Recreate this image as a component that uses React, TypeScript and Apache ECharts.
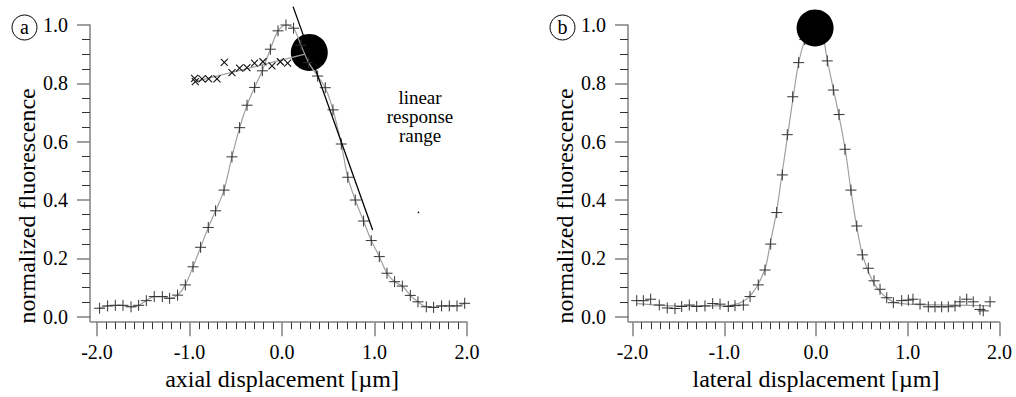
import React, { useEffect, useRef } from 'react';
import * as echarts from 'echarts';

// ---- panel (a): axial scan ----
const axialX = [-1.972, -1.885, -1.802, -1.719, -1.632, -1.55, -1.467, -1.381, -1.294, -1.215, -1.129, -1.045, -0.962, -0.88, -0.797, -0.718, -0.627, -0.541, -0.458, -0.378, -0.296, -0.213, -0.126, -0.043, 0.043, 0.125, 0.205, 0.288, 0.385, 0.468, 0.551, 0.641, 0.711, 0.792, 0.882, 0.965, 1.052, 1.135, 1.217, 1.301, 1.387, 1.47, 1.56, 1.639, 1.725, 1.809, 1.892, 1.975];
const axialY = [0.029, 0.037, 0.039, 0.039, 0.034, 0.039, 0.055, 0.069, 0.069, 0.063, 0.074, 0.109, 0.171, 0.238, 0.306, 0.363, 0.434, 0.548, 0.648, 0.725, 0.786, 0.843, 0.917, 0.98, 1.0, 0.989, 0.931, 0.871, 0.825, 0.785, 0.709, 0.592, 0.478, 0.4, 0.328, 0.261, 0.206, 0.149, 0.12, 0.105, 0.073, 0.051, 0.034, 0.032, 0.037, 0.037, 0.037, 0.046];
const crossX = [-0.945, -0.937, -0.865, -0.793, -0.703, -0.624, -0.541, -0.459, -0.379, -0.297, -0.206, -0.108, -0.018, 0.061];
const crossY = [0.817, 0.806, 0.815, 0.815, 0.815, 0.872, 0.837, 0.852, 0.854, 0.869, 0.874, 0.860, 0.874, 0.869];
const crossFitX = [-0.945, 0.25];
const crossFitY = [0.806, 0.9];
const tangentX = [0.12, 0.98];
const tangentY = [1.063, 0.297];
const axialSpot = [0.295, 0.906];
const strayDot = [1.476, 0.358];

// ---- panel (b): lateral scan ----
const lateralX = [-1.954, -1.882, -1.802, -1.708, -1.621, -1.537, -1.464, -1.381, -1.3, -1.21, -1.126, -1.046, -0.956, -0.883, -0.792, -0.719, -0.629, -0.556, -0.494, -0.428, -0.367, -0.313, -0.254, -0.189, -0.123, -0.058, 0.008, 0.065, 0.123, 0.189, 0.251, 0.316, 0.381, 0.444, 0.505, 0.57, 0.632, 0.698, 0.771, 0.843, 0.934, 1.006, 1.057, 1.134, 1.224, 1.297, 1.37, 1.442, 1.515, 1.569, 1.643, 1.714, 1.787, 1.823, 1.897];
const lateralY = [0.055, 0.055, 0.06, 0.04, 0.03, 0.028, 0.035, 0.04, 0.035, 0.037, 0.045, 0.043, 0.035, 0.038, 0.04, 0.069, 0.109, 0.16, 0.249, 0.357, 0.486, 0.624, 0.754, 0.871, 0.95, 0.99, 1.0, 0.96, 0.877, 0.777, 0.693, 0.574, 0.434, 0.311, 0.212, 0.166, 0.123, 0.094, 0.065, 0.048, 0.055, 0.057, 0.06, 0.043, 0.034, 0.034, 0.034, 0.034, 0.037, 0.051, 0.06, 0.051, 0.025, 0.02, 0.051];
const lateralFitX = [-1.95, -1.5, -1.0, -0.85, -0.75, -0.65, -0.55, -0.5, -0.43, -0.37, -0.31, -0.25, -0.19, -0.12, -0.05, 0.01, 0.07, 0.123, 0.19, 0.25, 0.32, 0.38, 0.44, 0.5, 0.57, 0.63, 0.7, 0.77, 0.85, 1.0, 1.5, 1.9];
const lateralFitY = [0.045, 0.037, 0.037, 0.045, 0.062, 0.1, 0.17, 0.25, 0.36, 0.49, 0.62, 0.75, 0.87, 0.95, 0.99, 1.0, 0.97, 0.88, 0.78, 0.69, 0.57, 0.435, 0.315, 0.22, 0.155, 0.115, 0.085, 0.065, 0.05, 0.043, 0.04, 0.037];
const lateralSpot = [-0.01, 0.99];

const yTickLabels = ['0.0', '0.2', '0.4', '0.6', '0.8', '1.0'];
const xTickLabels = ['-2.0', '-1.0', '0.0', '1.0', '2.0'];

const FONT = '"Liberation Serif", "Times New Roman", serif';
const zip = (xs: number[], ys: number[]) => xs.map((x, i) => [x, ys[i]]);
const PLUS = 'path://M5,0L5,10M0,5L10,5';
const CROSS = 'path://M0,0L10,10M0,10L10,0';

export default function App() {
  const ref = useRef<HTMLDivElement>(null);
  useEffect(() => {
    document.body.style.margin = '0';
    const chart = echarts.init(ref.current!, null, { renderer: 'svg' });

    const mkX = (idx: number, name: string) => ({
      type: 'value', gridIndex: idx, min: -2, max: 2, interval: 1, offset: 5.5,
      axisLine: { show: true, onZero: false, lineStyle: { color: '#808080', width: 1.5 } },
      axisTick: { show: true, length: 14, lineStyle: { color: '#808080', width: 1.5 } },
      minorTick: { show: true, splitNumber: 10, length: 7, lineStyle: { color: '#333', width: 1 } },
      splitLine: { show: false }, minorSplitLine: { show: false },
      axisLabel: { formatter: (v: number) => xTickLabels[Math.round(v + 2)], fontFamily: FONT, fontSize: 20, color: '#000', margin: 20 },
      name, nameLocation: 'middle', nameGap: 37,
      nameTextStyle: { fontFamily: FONT, fontSize: 24, color: '#000' },
    });
    const mkY = (idx: number, offset: number) => ({
      type: 'value', gridIndex: idx, min: 0, max: 1, interval: 0.2, offset,
      axisLine: { show: true, onZero: false, lineStyle: { color: '#808080', width: 1.5 } },
      axisTick: { show: true, length: 13, lineStyle: { color: '#808080', width: 1.5 } },
      minorTick: { show: true, splitNumber: 4, length: 8, lineStyle: { color: '#333', width: 1 } },
      splitLine: { show: false }, minorSplitLine: { show: false },
      axisLabel: { formatter: (v: number) => yTickLabels[Math.round(v * 5)], fontFamily: FONT, fontSize: 20, color: '#000', margin: 22 },
      name: 'normalized fluorescence', nameLocation: 'middle', nameGap: 45,
      nameTextStyle: { fontFamily: FONT, fontSize: 24, color: '#000', padding: [0, 70, 0, 0] },
    });

    const plusSeries = (idx: number, data: number[][], z: number) => ({
      type: 'scatter', xAxisIndex: idx, yAxisIndex: idx, data, symbol: PLUS, symbolSize: 11, z,
      itemStyle: { color: 'none', borderColor: '#333', borderWidth: 1, opacity: 1 }, silent: true,
    });
    const fitLine = (idx: number, data: number[][], z: number) => ({
      type: 'line', xAxisIndex: idx, yAxisIndex: idx, data, showSymbol: false, smooth: 0.3, z,
      lineStyle: { color: '#a0a0a0', width: 1.2 }, silent: true,
    });
    const spot = (idx: number, p: number[], z: number) => ({
      type: 'scatter', xAxisIndex: idx, yAxisIndex: idx, data: [p], symbol: 'circle', symbolSize: 37, z,
      itemStyle: { color: '#000', opacity: 1 }, silent: true,
    });

    const labelCircle = (cx: number, letter: string) => ([
      { type: 'circle', shape: { cx, cy: 27.5, r: 12.5 }, style: { fill: 'none', stroke: '#000', lineWidth: 1 } },
      { type: 'text', x: cx, y: 27, style: { text: letter, font: `20px ${FONT}`, fill: '#000', align: 'center', verticalAlign: 'middle' } },
    ]);
    const cornerLines = (ax: number, gx: number) => ([
      { type: 'line', shape: { x1: ax, y1: 316, x2: ax, y2: 322 }, style: { stroke: '#808080', lineWidth: 1.5 } },
      { type: 'line', shape: { x1: ax, y1: 322, x2: gx, y2: 322 }, style: { stroke: '#808080', lineWidth: 1.5 } },
    ]);

    chart.setOption({
      animation: false,
      grid: [
        { left: 97, top: 25, width: 370, height: 291.7 },
        { left: 632.5, top: 25, width: 367, height: 291.7 },
      ],
      xAxis: [mkX(0, 'axial displacement [µm]'), mkX(1, 'lateral displacement [µm]')],
      yAxis: [mkY(0, 7), mkY(1, 4.5)],
      series: [
        spot(0, axialSpot, 1),
        fitLine(0, zip(axialX, axialY), 2),
        plusSeries(0, zip(axialX, axialY), 3),
        {
          type: 'line', xAxisIndex: 0, yAxisIndex: 0, data: zip(crossFitX, crossFitY), showSymbol: false, z: 2,
          lineStyle: { color: '#a0a0a0', width: 1.2 }, silent: true,
        },
        {
          type: 'scatter', xAxisIndex: 0, yAxisIndex: 0, data: zip(crossX, crossY), symbol: CROSS, symbolSize: 7, z: 3,
          itemStyle: { color: 'none', borderColor: '#111', borderWidth: 1.1, opacity: 1 }, silent: true,
        },
        {
          type: 'line', xAxisIndex: 0, yAxisIndex: 0, data: zip(tangentX, tangentY), showSymbol: false, clip: false, z: 4,
          lineStyle: { color: '#000', width: 1.3 }, silent: true,
        },
        {
          type: 'scatter', xAxisIndex: 0, yAxisIndex: 0, data: [strayDot], symbol: 'circle', symbolSize: 1.5, z: 3,
          itemStyle: { color: '#000', opacity: 1 }, silent: true,
        },
        fitLine(1, zip(lateralFitX, lateralFitY), 2),
        plusSeries(1, zip(lateralX, lateralY), 3),
        spot(1, lateralSpot, 5),
      ],
      graphic: [
        ...labelCircle(24.5, 'a'),
        ...labelCircle(562.5, 'b'),
        ...cornerLines(90, 97),
        ...cornerLines(628, 632.5),
        {
          type: 'text', x: 420, y: 88,
          style: { text: 'linear\nresponse\nrange', font: `19px ${FONT}`, lineHeight: 19, fill: '#000', align: 'center', verticalAlign: 'top' },
        },
      ],
    });
    return () => chart.dispose();
  }, []);
  return <div ref={ref} style={{ width: 1016, height: 397 }} />;
}
